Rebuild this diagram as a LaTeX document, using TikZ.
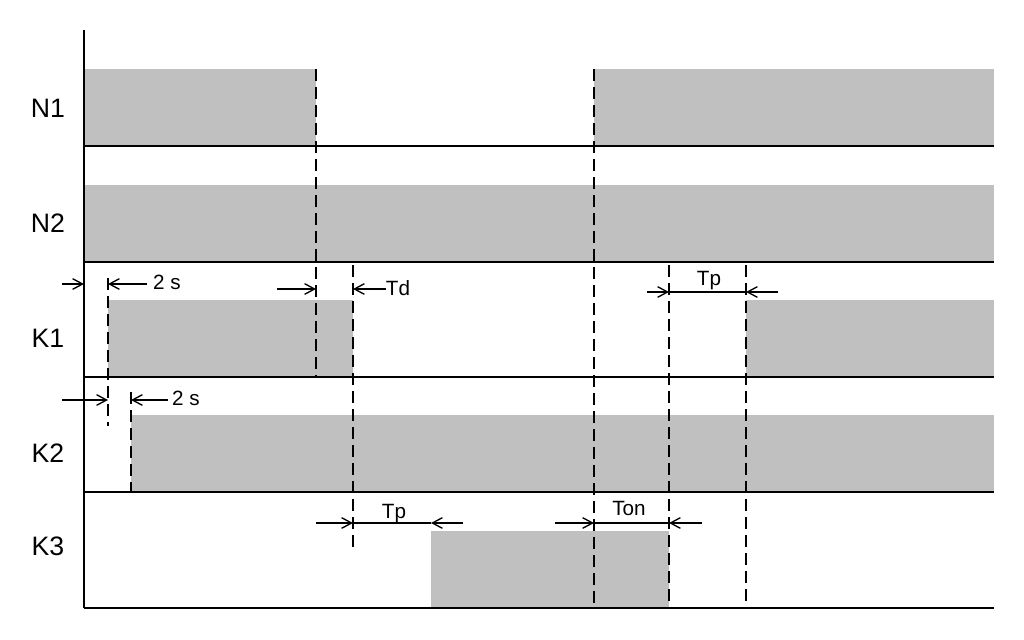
\documentclass[tikz,border=0pt]{standalone}
\usepackage{fontspec}
\setmainfont{Liberation Sans}
\usetikzlibrary{arrows.meta}
\definecolor{bargray}{RGB}{192,192,192}
\begin{document}
\begin{tikzpicture}[x=0.75pt,y=-0.75pt,
  sigbar/.style={fill=bargray,draw=none},
  baseline/.style={line width=1.5pt},
  axisline/.style={line width=1.5pt},
  dashline/.style={line width=1.1pt,dash pattern=on 9pt off 4.5pt},
  dimline/.style={line width=1.1pt},
  dimarr/.style={line width=1.1pt,-{Straight Barb[length=7.5pt,width=8pt,line width=1pt]}},
  lab/.style={font=\fontsize{20}{22}\selectfont,inner sep=0pt},
  dimlab/.style={font=\fontsize{15.5}{17}\selectfont,inner sep=0pt,anchor=base}]
\useasboundingbox (0,0) rectangle (1024,639);
% bars
\fill[sigbar] (85,69) rectangle (316,146);
\fill[sigbar] (594,69) rectangle (994,146);
\fill[sigbar] (85,185) rectangle (994,262);
\fill[sigbar] (108,300) rectangle (353,377);
\fill[sigbar] (746,300) rectangle (994,377);
\fill[sigbar] (131,415) rectangle (994,492);
\fill[sigbar] (431,531) rectangle (669,608);
% axis and baselines
\draw[axisline] (84,30) -- (84,608);
\foreach \y in {146,262,377,492,608} \draw[baseline] (84,\y) -- (994,\y);
% dashed markers
\draw[dashline] (316,69) -- (316,376);
\draw[dashline] (353,265) -- (353,548);
\draw[dashline] (594,69) -- (594,608);
\draw[dashline] (669,265) -- (669,608);
\draw[dashline] (746,265) -- (746,608);
\draw[dashline] (108,278) -- (108,426);
\draw[dashline] (131,392) -- (131,492);
% labels
\node[lab] (n1) at (48,108) {N1};
\node[lab] (n2) at (48,223) {N2};
\node[lab] (k1) at (48,338) {K1};
\node[lab] (k2) at (48,453) {K2};
\node[lab] (k3) at (48,546) {K3};
% 2 s (K1)
\draw[dimarr] (62,284) -- (84,284);
\draw[dimarr] (147,284) -- (108,284);
\node[dimlab] (t2a) at (167,289) {2 s};
% 2 s (K2)
\draw[dimarr] (62,400) -- (108,400);
\draw[dimarr] (168,400) -- (131,400);
\node[dimlab] (t2b) at (186,405) {2 s};
% Td
\draw[dimarr] (277,289) -- (316,289);
\draw[dimarr] (386,289) -- (353,289);
\node[dimlab] (td) at (398,295) {Td};
% Tp (K1)
\draw[dimarr] (647,292) -- (669,292);
\draw[dimline] (669,292) -- (746,292);
\draw[dimarr] (778,292) -- (746,292);
\node[dimlab] (tp1) at (709,285) {Tp};
% Tp (K3)
\draw[dimarr] (316,523) -- (353,523);
\draw[dimline] (353,523) -- (431,523);
\draw[dimarr] (463,523) -- (431,523);
\node[dimlab] (tp2) at (394,518) {Tp};
% Ton
\draw[dimarr] (555,523) -- (594,523);
\draw[dimline] (594,523) -- (669,523);
\draw[dimarr] (702,523) -- (669,523);
\node[dimlab] (ton) at (629,515) {Ton};
\end{tikzpicture}
\end{document}
